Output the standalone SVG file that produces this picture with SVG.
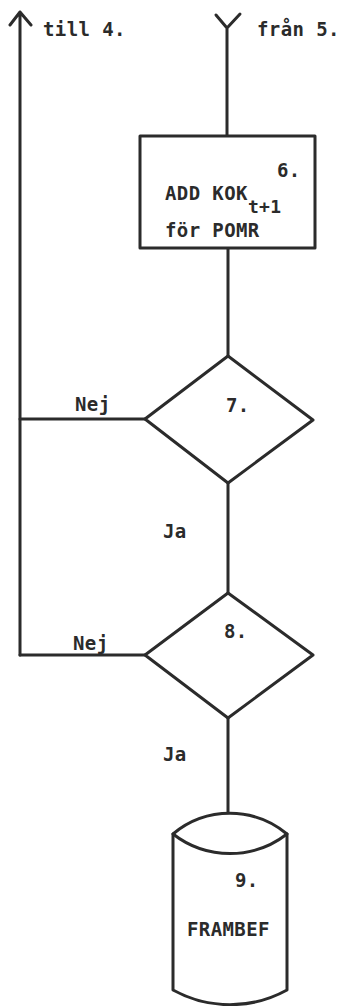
<svg xmlns="http://www.w3.org/2000/svg" width="342" height="1006" viewBox="0 0 342 1006">
<style>
.ln{fill:none;stroke:#2b2b2b;stroke-width:3;stroke-linejoin:round;stroke-linecap:round}
.nd{fill:#fff;stroke:#2b2b2b;stroke-width:3;stroke-linejoin:round}
text{font-family:"DejaVu Sans Mono","Liberation Mono",monospace;font-size:19px;font-weight:bold;fill:#2b2b2b;letter-spacing:0.4px}
.sm{font-size:18px}
</style>
<rect width="342" height="1006" fill="#fff"/>
<g id="connectors">
<path class="ln" d="M20,655 V12 M10,25 L20,12 L31,25"/>
<path class="ln" d="M216,15 L227,28 L240,14 M227,28 V136"/>
<path class="ln" d="M228,248 V356"/>
<path class="ln" d="M228,483 V593"/>
<path class="ln" d="M228,718 V813"/>
<path class="ln" d="M20,419 H145"/>
<path class="ln" d="M20,655 H145"/>
<text x="43" y="36">till 4.</text>
<text x="257" y="36">från 5.</text>
<text x="75" y="411">Nej</text>
<text x="163" y="538">Ja</text>
<text x="73" y="650">Nej</text>
<text x="163" y="761">Ja</text>
</g>
<g id="n6">
<rect class="nd" x="140" y="136" width="175" height="112"/>
<text x="277" y="177">6.</text>
<text x="165" y="200">ADD KOK<tspan class="sm" dy="13">t+1</tspan></text>
<text x="165" y="237">för POMR</text>
</g>
<g id="n7">
<polygon class="nd" points="228,356 313,420 228,483 145,419"/>
<text x="226" y="412">7.</text>
</g>
<g id="n8">
<polygon class="nd" points="228,593 313,655 228,718 145,655"/>
<text x="224" y="638">8.</text>
</g>
<g id="n9">
<path class="nd" d="M173,834 A89,89 0 0 1 287,834 V990 A118,118 0 0 1 173,990 Z"/>
<path class="ln" d="M173,834 A93,93 0 0 0 287,834"/>
<text x="235" y="887">9.</text>
<text x="187" y="936">FRAMBEF</text>
</g>
</svg>
